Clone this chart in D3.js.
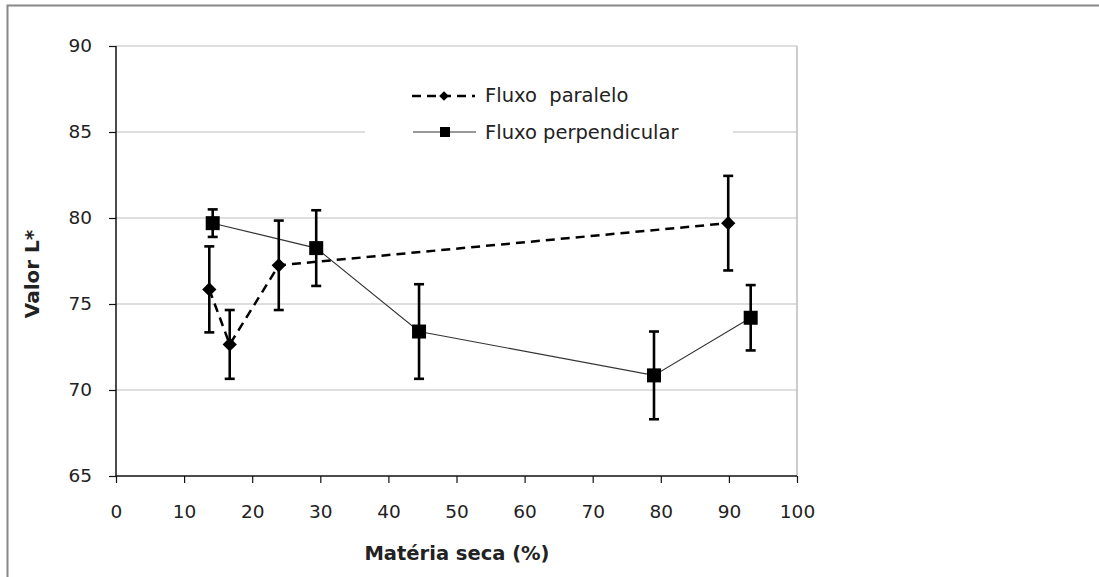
<!DOCTYPE html>
<html>
<head>
<meta charset="utf-8">
<script src="https://cdn.jsdelivr.net/npm/d3@7"></script>
<style>
  body { margin: 0; background: #fff; }
  text { font-family: "DejaVu Sans", Verdana, sans-serif; fill: #222; }
</style>
</head>
<body>
<script>
// data
var xTicks = [0, 10, 20, 30, 40, 50, 60, 70, 80, 90, 100];
var yTicks = [65, 70, 75, 80, 85, 90];

var paraleloX = [13.7, 16.7, 23.9, 89.9];
var paraleloY = [75.85, 72.65, 77.25, 79.7];
var paraleloErr = [2.5, 2.0, 2.6, 2.75];

var perpX = [14.2, 29.4, 44.5, 79.0, 93.2];
var perpY = [79.7, 78.25, 73.4, 70.85, 74.2];
var perpErr = [0.8, 2.2, 2.75, 2.55, 1.9];

var legendNames = ["Fluxo  paralelo", "Fluxo perpendicular"];

var svg = d3.select("body").append("svg")
  .attr("width", 1099)
  .attr("height", 577);

// outer frame
svg.append("rect")
  .attr("x", 7.5).attr("y", 5.5)
  .attr("width", 1200).attr("height", 700)
  .attr("fill", "none").attr("stroke", "#888").attr("stroke-width", 2);

var x = d3.scaleLinear().domain([0, 100]).range([116, 797]);
var y = d3.scaleLinear().domain([65, 90]).range([476, 46]);

// gridlines
svg.selectAll("line.grid")
  .data(yTicks.filter(function(d){ return d > 65; }))
  .enter().append("line")
  .attr("class", "grid")
  .attr("x1", x(0)).attr("x2", x(100))
  .attr("y1", function(d){ return y(d); })
  .attr("y2", function(d){ return y(d); })
  .attr("stroke", "#bdbdbd").attr("stroke-width", 1);

// right border of plot
svg.append("line")
  .attr("x1", x(100)).attr("x2", x(100))
  .attr("y1", y(90)).attr("y2", y(65))
  .attr("stroke", "#bdbdbd").attr("stroke-width", 1.5);

// axes
var xAxis = d3.axisBottom(x).tickValues(xTicks).tickSize(7).tickPadding(22);
var yAxis = d3.axisLeft(y).tickValues(yTicks).tickSize(7).tickPadding(17);

var gx = svg.append("g").attr("transform", "translate(0," + y(65) + ")").call(xAxis);
var gy = svg.append("g").attr("transform", "translate(" + x(0) + ",0)").call(yAxis);

[gx, gy].forEach(function(g){
  g.select(".domain").attr("stroke", "#111").attr("stroke-width", 1.5);
  g.selectAll(".tick line").attr("stroke", "#111").attr("stroke-width", 1.2);
  g.selectAll(".tick text")
    .style("font-family", "'DejaVu Sans', Verdana, sans-serif")
    .style("font-size", "18.5px").attr("fill", "#222");
});
gy.select(".domain").attr("d", "M0," + y(90) + "V" + y(65));
gx.select(".domain").attr("d", "M" + x(0) + ",0H" + x(100));

// axis titles
svg.append("text")
  .attr("x", 457).attr("y", 560)
  .attr("text-anchor", "middle")
  .style("font-size", "19.5px").style("font-weight", "bold")
  .text("Matéria seca (%)");

svg.append("text")
  .attr("transform", "translate(39,274) rotate(-90)")
  .attr("text-anchor", "middle")
  .style("font-size", "20px").style("font-weight", "bold")
  .text("Valor L*");

// legend box (white, hides gridline)
svg.append("rect")
  .attr("x", 365).attr("y", 70)
  .attr("width", 368).attr("height", 90)
  .attr("fill", "#fff");

var paralelo = paraleloX.map(function(d, i){ return [d, paraleloY[i], paraleloErr[i]]; });
var perp = perpX.map(function(d, i){ return [d, perpY[i], perpErr[i]]; });

var line = d3.line()
  .x(function(d){ return x(d[0]); })
  .y(function(d){ return y(d[1]); });

svg.append("path")
  .attr("d", line(perp))
  .attr("fill", "none").attr("stroke", "#333").attr("stroke-width", 1.1);

svg.append("path")
  .attr("d", line(paralelo))
  .attr("fill", "none").attr("stroke", "#000").attr("stroke-width", 2.5)
  .attr("stroke-dasharray", "9,6");

// error bars
function errorBars(data){
  var g = svg.append("g").attr("stroke", "#000").attr("stroke-width", 2.6);
  data.forEach(function(d){
    var cx = x(d[0]), yt = y(d[1] + d[2]), yb = y(d[1] - d[2]);
    g.append("line").attr("x1", cx).attr("x2", cx).attr("y1", yt).attr("y2", yb);
    g.append("line").attr("x1", cx - 5).attr("x2", cx + 5).attr("y1", yt).attr("y2", yt);
    g.append("line").attr("x1", cx - 5).attr("x2", cx + 5).attr("y1", yb).attr("y2", yb);
  });
}
errorBars(paralelo);
errorBars(perp);

var diamond = d3.symbol().type(d3.symbolDiamond2).size(130);

svg.selectAll("path.dia")
  .data(paralelo)
  .enter().append("path")
  .attr("class", "dia")
  .attr("d", diamond)
  .attr("transform", function(d){ return "translate(" + x(d[0]) + "," + y(d[1]) + ")"; })
  .attr("fill", "#000");

svg.selectAll("rect.sq")
  .data(perp)
  .enter().append("rect")
  .attr("class", "sq")
  .attr("x", function(d){ return x(d[0]) - 7; })
  .attr("y", function(d){ return y(d[1]) - 7; })
  .attr("width", 14).attr("height", 14)
  .attr("fill", "#000");

// legend
var lg = svg.append("g");
lg.append("line")
  .attr("x1", 412).attr("x2", 475).attr("y1", 96).attr("y2", 96)
  .attr("stroke", "#000").attr("stroke-width", 2.5).attr("stroke-dasharray", "9,6");
lg.append("path")
  .attr("d", d3.symbol().type(d3.symbolDiamond2).size(60))
  .attr("transform", "translate(444,96)").attr("fill", "#000");
lg.append("line")
  .attr("x1", 413).attr("x2", 476).attr("y1", 132).attr("y2", 132)
  .attr("stroke", "#333").attr("stroke-width", 1.1);
lg.append("rect")
  .attr("x", 440).attr("y", 127).attr("width", 10).attr("height", 10)
  .attr("fill", "#000");
lg.selectAll("text")
  .data(legendNames)
  .enter().append("text")
  .attr("x", 485)
  .attr("y", function(d, i){ return 102 + i * 37; })
  .attr("xml:space", "preserve")
  .style("white-space", "pre")
  .style("font-size", "19.5px")
  .text(function(d){ return d; });
</script>
</body>
</html>
